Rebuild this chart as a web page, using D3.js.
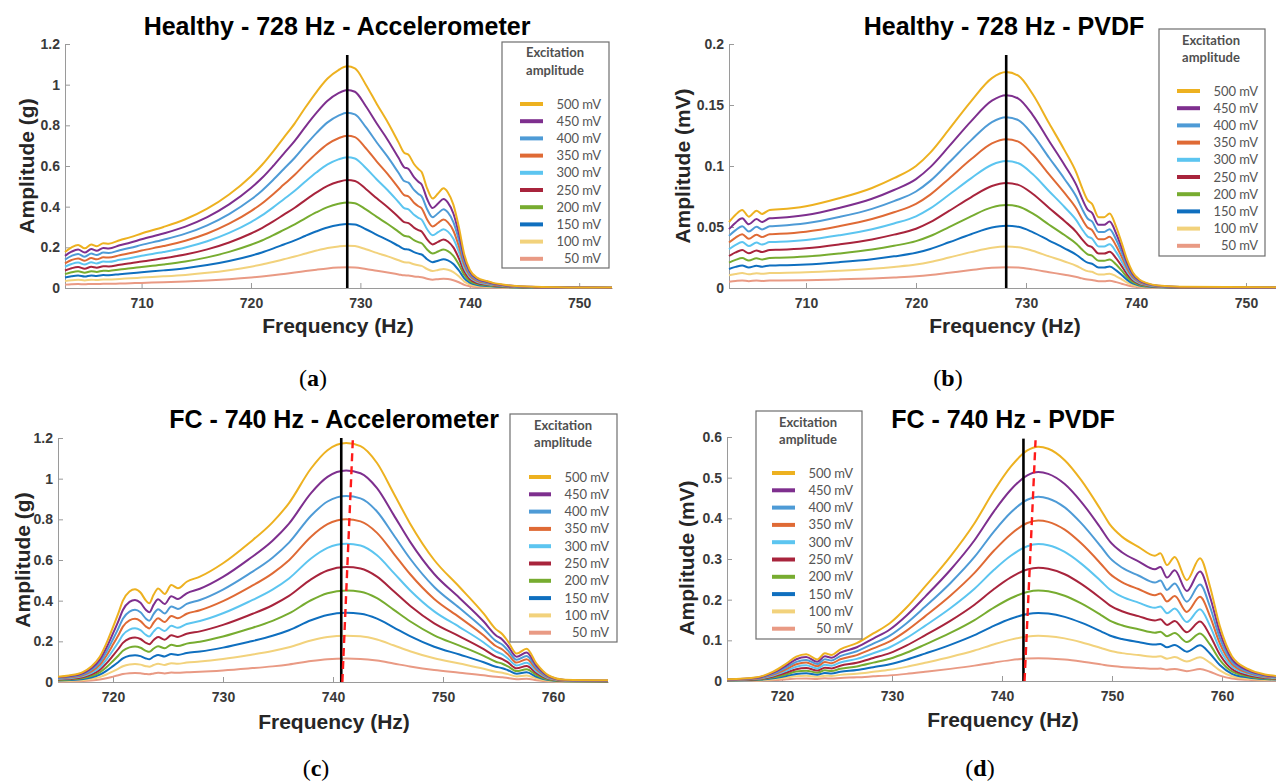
<!DOCTYPE html>
<html lang="en">
<head>
<meta charset="utf-8">
<title>Excitation amplitude sweeps</title>
<script src="https://d3js.org/d3.v7.min.js"></script>
<style>
  body { margin: 0; background: #fff; }
  svg { display: block; font-family: "Liberation Sans", Arial, sans-serif; }
</style>
</head>
<body>
<script>
// legend entries, top to bottom
var levels = ["500 mV", "450 mV", "400 mV", "350 mV", "300 mV", "250 mV", "200 mV", "150 mV", "100 mV", "50 mV"];
var colors = ["#EDB120", "#7E2F8E", "#4E9BD6", "#DF6A35", "#5CC5F0", "#A8243C", "#77AC30", "#0F6FBF", "#F2D27C", "#E99A84"];

// (a) Healthy - accelerometer: 500 mV sweep + peak of every level
var freqA = [703, 703.6, 704.2, 704.8, 705.4, 705.9, 706.5, 707, 708, 709, 710, 712, 714, 716, 718, 720, 721, 722, 723, 724, 725, 726, 727, 728, 728.8, 729.5, 730.5, 731.5, 732.5, 733.5, 734, 734.4, 734.9, 735.3, 735.6, 736.1, 736.6, 737.1, 737.6, 738, 738.5, 739, 739.5, 740, 740.7, 741.5, 742.2, 743, 744.3, 746, 749, 753];
var ampA500 = [0.177, 0.2, 0.212, 0.195, 0.214, 0.205, 0.22, 0.218, 0.235, 0.25, 0.268, 0.3, 0.338, 0.39, 0.46, 0.55, 0.605, 0.67, 0.74, 0.81, 0.89, 0.965, 1.03, 1.072, 1.09, 1.08, 1.0, 0.905, 0.815, 0.715, 0.665, 0.655, 0.61, 0.585, 0.57, 0.49, 0.44, 0.465, 0.49, 0.47, 0.41, 0.3, 0.165, 0.09, 0.05, 0.035, 0.024, 0.017, 0.01, 0.006, 0.003, 0.002];
var peaksA = [1.09, 0.974, 0.862, 0.749, 0.643, 0.531, 0.421, 0.315, 0.208, 0.102];

// (b) Healthy - PVDF
var freqB = [703, 703.6, 704.2, 704.8, 705.5, 706, 706.7, 707.6, 710, 713, 716, 718, 720, 721.3, 723, 725, 726.9, 728.2, 729.3, 730.6, 732.1, 733.5, 734.6, 735.1, 735.6, 736, 736.6, 737.1, 737.6, 738.2, 738.7, 739.2, 739.7, 740.3, 741, 742, 744, 753];
var ampB500 = [0.054, 0.06, 0.064, 0.0585, 0.0634, 0.0607, 0.064, 0.0645, 0.067, 0.0735, 0.082, 0.09, 0.1, 0.111, 0.13, 0.153, 0.172, 0.177, 0.174, 0.159, 0.135, 0.113, 0.094, 0.082, 0.072, 0.069, 0.058, 0.058, 0.061, 0.05, 0.037, 0.023, 0.013, 0.007, 0.004, 0.002, 0.001, 0.0005];
var peaksB = [0.177, 0.158, 0.14, 0.122, 0.104, 0.086, 0.068, 0.051, 0.034, 0.017];

// (c) FC - accelerometer
var freqC = [715, 716, 717.3, 718, 718.8, 719.4, 720, 720.5, 720.9, 721.5, 722, 722.5, 723, 723.3, 723.7, 724.1, 724.7, 725.3, 725.9, 726.7, 727.9, 730, 732.3, 734.5, 736, 738, 739.5, 741.2, 742.5, 744, 745.5, 747, 749.2, 751.5, 753.7, 754.8, 755.4, 755.9, 756.7, 757.6, 758.5, 759.6, 761.1, 765];
var ampC500 = [0.026, 0.032, 0.05, 0.075, 0.124, 0.19, 0.27, 0.34, 0.4, 0.445, 0.456, 0.44, 0.4, 0.387, 0.43, 0.46, 0.433, 0.477, 0.461, 0.493, 0.518, 0.584, 0.68, 0.785, 0.88, 1.05, 1.14, 1.175, 1.16, 1.077, 0.93, 0.78, 0.6, 0.467, 0.336, 0.26, 0.235, 0.2, 0.14, 0.164, 0.09, 0.032, 0.011, 0.008];
var peaksC = [1.175, 1.04, 0.915, 0.8, 0.68, 0.565, 0.45, 0.34, 0.228, 0.115];

// (d) FC - PVDF
var freqD = [715, 717.7, 719.2, 720.4, 721.3, 722.2, 723.2, 723.9, 724.5, 725.3, 726.8, 728.3, 729.8, 731.3, 733, 735.3, 737.5, 739.3, 740.8, 742.3, 743.3, 744.2, 745.7, 747.2, 749, 749.8, 750.9, 752.4, 753.9, 754.4, 755, 755.7, 756.8, 758, 758.9, 759.8, 760.9, 762.4, 763.9, 765];
var ampD500 = [0.004, 0.009, 0.023, 0.043, 0.06, 0.066, 0.053, 0.068, 0.064, 0.078, 0.093, 0.117, 0.142, 0.18, 0.232, 0.306, 0.388, 0.469, 0.527, 0.567, 0.576, 0.571, 0.543, 0.494, 0.42, 0.385, 0.355, 0.33, 0.308, 0.314, 0.285, 0.305, 0.248, 0.302, 0.233, 0.135, 0.061, 0.029, 0.016, 0.012];
var peaksD = [0.575, 0.513, 0.452, 0.394, 0.336, 0.278, 0.222, 0.167, 0.111, 0.056];

// marker lines: solid = reference frequency, dashed = shifted peak
var refFreq = [728.8, 728.2, 740.75, 741.95];
var refTop = [1.146, 0.191, 1.2, 0.596];
var shiftFreqTop = [null, null, 741.8, 743.05];
var shiftFreqBottom = [null, null, 740.85, 742.05];
var shiftTop = [null, null, 1.19, 0.592];

var titles = ["Healthy - 728 Hz - Accelerometer", "Healthy - 728 Hz - PVDF", "FC - 740 Hz - Accelerometer", "FC - 740 Hz - PVDF"];
var yLabels = ["Amplitude (g)", "Amplitude (mV)", "Amplitude (g)", "Amplitude (mV)"];
var subLabels = ["a", "b", "c", "d"];
var yTicksAcc = [0, 0.2, 0.4, 0.6, 0.8, 1, 1.2];
var yTicksB = [0, 0.05, 0.1, 0.15, 0.2];
var yTicksD = [0, 0.1, 0.2, 0.3, 0.4, 0.5, 0.6];
var xTicksH = [710, 720, 730, 740, 750];
var xTicksF = [720, 730, 740, 750, 760];

var W = 1276, H = 784;

var panels = [
  {freq: freqA, base: ampA500, peaks: peaksA, xd: [703, 753], yd: [0, 1.2], xt: xTicksH, yt: yTicksAcc,
   x0: 65, x1: 612, y0: 288, y1: 44, titleX: 337, titleY: 35, xLabX: 338, xLabY: 333, yLabX: 27, yLabY: 166, subX: 313, subY: 386,
   leg: {x: 502, y: 42, w: 107, h: 226, s0: 520, s1: 543, lx: 601, hx: 555, hy: [52, 70], r0: 104, step: 17.2}},
  {freq: freqB, base: ampB500, peaks: peaksB, xd: [703, 753], yd: [0, 0.2], xt: xTicksH, yt: yTicksB,
   x0: 729, x1: 1279, y0: 288, y1: 44, titleX: 1004, titleY: 35, xLabX: 1005, xLabY: 333, yLabX: 683, yLabY: 166, subX: 948, subY: 386,
   leg: {x: 1159, y: 29, w: 106, h: 227, s0: 1177, s1: 1200, lx: 1258, hx: 1211, hy: [40, 57], r0: 91, step: 17.2}},
  {freq: freqC, base: ampC500, peaks: peaksC, xd: [715, 765], yd: [0, 1.2], xt: xTicksF, yt: yTicksAcc,
   x0: 58, x1: 608, y0: 682, y1: 438, titleX: 334, titleY: 428, xLabX: 334, xLabY: 729, yLabX: 23, yLabY: 560, subX: 316, subY: 776,
   leg: {x: 510, y: 414, w: 107, h: 228, s0: 529, s1: 551, lx: 609, hx: 563, hy: [425, 442], r0: 477, step: 17.3}},
  {freq: freqD, base: ampD500, peaks: peaksD, xd: [715, 765], yd: [0, 0.6], xt: xTicksF, yt: yTicksD,
   x0: 727, x1: 1277, y0: 681, y1: 437, titleX: 1003, titleY: 428, xLabX: 1003, xLabY: 727, yLabX: 687, yLabY: 558, subX: 980, subY: 776,
   leg: {x: 756, y: 411, w: 106, h: 228, s0: 772, s1: 795, lx: 853, hx: 808, hy: [422, 439], r0: 473, step: 17.3}}
];

var svg = d3.select("body").append("svg")
  .attr("width", W)
  .attr("height", H);

panels.forEach(function(p, k) {
  var x = d3.scaleLinear().domain(p.xd).range([p.x0, p.x1]);
  var y = d3.scaleLinear().domain(p.yd).range([p.y0, p.y1]);
  var g = svg.append("g");

  // every level = measured 500 mV sweep scaled to that level's peak
  var series = p.peaks.map(function(pk) {
    return p.freq.map(function(f, j) { return {f: f, v: p.base[j] * pk / p.peaks[0]}; });
  });

  var line = d3.line()
    .x(function(d) { return x(d.f); })
    .y(function(d) { return y(d.v); })
    .curve(d3.curveMonotoneX);

  // axes (MATLAB style, ticks inside)
  var xAxis = g.append("g")
    .attr("transform", "translate(0," + p.y0 + ")")
    .call(d3.axisBottom(x).tickValues(p.xt).tickSize(-5).tickSizeOuter(0).tickPadding(10).tickFormat(d3.format("d")));
  var yAxis = g.append("g")
    .attr("transform", "translate(" + p.x0 + ",0)")
    .call(d3.axisLeft(y).tickValues(p.yt).tickSize(-5).tickSizeOuter(0).tickPadding(5).tickFormat(function(d) { return String(d); }));
  [xAxis, yAxis].forEach(function(a) {
    a.select(".domain").attr("stroke", "#9a9a9a");
    a.selectAll(".tick line").attr("stroke", "#9a9a9a");
    a.selectAll(".tick text")
      .attr("fill", "#3a3a3a")
      .style("font-size", "14px")
      .style("font-weight", "bold")
      .style("font-family", "'Liberation Sans', Arial, sans-serif");
  });

  // curves, 50 mV drawn first so 500 mV ends on top
  for (var i = series.length - 1; i >= 0; i--) {
    g.append("path")
      .datum(series[i])
      .attr("d", line)
      .attr("fill", "none")
      .attr("stroke", colors[i])
      .attr("stroke-width", 2)
      .attr("stroke-linejoin", "round");
  }

  // reference frequency
  g.append("line")
    .attr("x1", x(refFreq[k])).attr("x2", x(refFreq[k]))
    .attr("y1", y(0)).attr("y2", y(refTop[k]))
    .attr("stroke", "#000")
    .attr("stroke-width", 2.6);

  if (shiftFreqTop[k] !== null) {
    g.append("line")
      .attr("x1", x(shiftFreqBottom[k])).attr("x2", x(shiftFreqTop[k]))
      .attr("y1", y(0)).attr("y2", y(shiftTop[k]))
      .attr("stroke", "#ff1a1a")
      .attr("stroke-width", 2.4)
      .attr("stroke-dasharray", "8,5");
  }

  // titles and axis labels
  g.append("text")
    .attr("x", p.titleX).attr("y", p.titleY)
    .attr("text-anchor", "middle")
    .style("font-size", "25px").style("font-weight", "bold")
    .attr("fill", "#000")
    .text(titles[k]);

  g.append("text")
    .attr("x", p.xLabX).attr("y", p.xLabY)
    .attr("text-anchor", "middle")
    .style("font-size", "21px").style("font-weight", "bold")
    .attr("fill", "#262626")
    .text("Frequency (Hz)");

  g.append("text")
    .attr("transform", "translate(" + p.yLabX + "," + p.yLabY + ") rotate(-90)")
    .attr("text-anchor", "middle")
    .attr("dy", "0.35em")
    .style("font-size", "21px").style("font-weight", "bold")
    .attr("fill", "#262626")
    .text(yLabels[k]);

  // legend
  var L = p.leg;
  var lg = g.append("g").style("font-family", "Lato, 'Open Sans', sans-serif");
  lg.append("rect")
    .attr("x", L.x).attr("y", L.y)
    .attr("width", L.w).attr("height", L.h)
    .attr("fill", "#fff")
    .attr("stroke", "#6e6e6e")
    .attr("stroke-width", 1.2);
  ["Excitation", "amplitude"].forEach(function(t, j) {
    lg.append("text")
      .attr("x", L.hx).attr("y", L.hy[j])
      .attr("dy", "0.35em")
      .attr("text-anchor", "middle")
      .style("font-size", "13px").style("font-weight", "bold")
      .attr("fill", "#505050")
      .text(t);
  });
  levels.forEach(function(lbl, i) {
    var ry = L.r0 + i * L.step;
    lg.append("line")
      .attr("x1", L.s0).attr("x2", L.s1)
      .attr("y1", ry).attr("y2", ry)
      .attr("stroke", colors[i])
      .attr("stroke-width", 4);
    lg.append("text")
      .attr("x", L.lx).attr("y", ry)
      .attr("dy", "0.35em")
      .attr("text-anchor", "end")
      .style("font-size", "13px")
      .attr("fill", "#555")
      .text(lbl);
  });

  // sub-figure label, (a) .. (d)
  var sub = svg.append("text")
    .attr("x", p.subX).attr("y", p.subY)
    .attr("text-anchor", "middle")
    .style("font-family", "'Liberation Serif', 'DejaVu Serif', serif")
    .style("font-size", "24px")
    .attr("fill", "#000");
  sub.append("tspan").text("(");
  sub.append("tspan").style("font-weight", "bold").text(subLabels[k]);
  sub.append("tspan").text(")");
});
</script>
</body>
</html>
